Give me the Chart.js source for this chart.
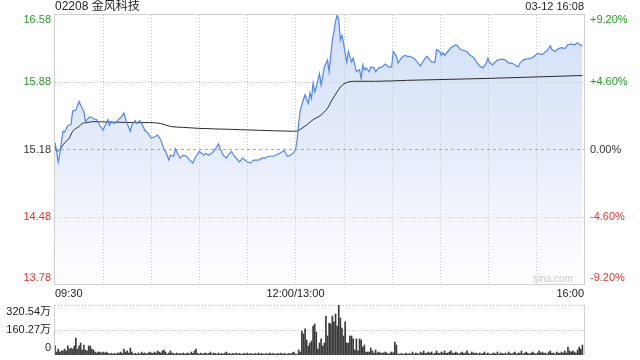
<!DOCTYPE html>
<html>
<head>
<meta charset="utf-8">
<script src="https://cdn.jsdelivr.net/npm/chart.js@4.4.1/dist/chart.umd.min.js"></script>
<style>
body{margin:0;background:#fff;}
#wrap{position:relative;width:640px;height:360px;}
canvas{position:absolute;left:0;top:0;}
</style>
</head>
<body>
<div id="wrap">
<canvas id="priceChart" width="640" height="360"></canvas>
<canvas id="volChart" width="640" height="360"></canvas>
</div>
<script>
// minute index since 09:30 (lunch break removed), 330 minutes per day
const titleText = '02208 金风科技';
const stampText = '03-12 16:08';
const prevClose = 15.18;

const priceTicks = [16.58, 15.88, 15.18, 14.48, 13.78];
const pctLabels = ['+9.20%', '+4.60%', '0.00%', '-4.60%', '-9.20%'];
const timeTicks = [0, 150, 330];
const timeLabels = ['09:30', '12:00/13:00', '16:00'];
const gridMinutes = [30, 60, 90, 120, 150, 180, 210, 240, 270, 300];
const volTicks = [320.54, 160.27, 0];
const volLabels = ['320.54万', '160.27万', '0'];

const priceMinutes = [0,1,2,3,5,6,8,10,11,13,15,16,17,18,19,21,22,24,26,28,30,31,33,34,35,37,39,41,43,44,45,47,48,50,51,53,55,56,58,60,62,64,66,68,69,71,72,74,75,77,78,80,82,84,86,88,90,93,94,96,99,101,102,103,105,107,108,110,112,115,117,120,122,124,127,129,131,133,136,139,142,143,145,147,149,150,151,152,153,155,156,157,158,159,160,161,162,163,165,166,167,168,170,171,172,173,174,175,176,177,178,179,180,181,182,183,185,186,187,188,190,191,192,193,194,196,197,199,200,202,204,206,208,210,211,213,214,216,218,220,221,224,226,228,229,231,232,234,235,237,238,240,241,242,243,245,247,250,251,253,255,257,259,261,263,265,267,269,270,271,273,274,276,279,281,283,285,287,289,290,292,294,297,299,301,304,306,307,309,310,312,314,316,318,320,322,324,326,328,329];
const prices = [15.25,15.16,15.05,15.14,15.37,15.36,15.43,15.44,15.58,15.59,15.68,15.64,15.61,15.57,15.47,15.51,15.52,15.50,15.49,15.43,15.38,15.42,15.49,15.43,15.47,15.45,15.48,15.51,15.56,15.50,15.45,15.37,15.44,15.48,15.45,15.48,15.42,15.38,15.35,15.30,15.31,15.33,15.28,15.18,15.16,15.07,15.12,15.11,15.19,15.12,15.09,15.12,15.11,15.07,15.04,15.11,15.16,15.12,15.14,15.12,15.16,15.21,15.24,15.19,15.12,15.09,15.12,15.16,15.11,15.05,15.09,15.05,15.04,15.07,15.07,15.09,15.09,15.11,15.11,15.13,15.16,15.17,15.11,15.12,15.15,15.18,15.27,15.45,15.59,15.70,15.75,15.70,15.66,15.77,15.71,15.87,15.78,15.83,15.97,15.85,15.94,16.04,16.11,15.99,16.16,16.32,16.41,16.51,16.58,16.53,16.32,16.37,16.29,16.18,16.09,16.20,16.09,16.13,16.06,15.99,16.01,15.92,16.06,16.01,16.03,15.99,16.04,16.03,15.99,16.03,16.04,16.07,16.04,16.04,16.20,16.15,16.08,16.13,16.16,16.15,16.15,16.13,16.09,16.05,16.08,16.13,16.15,16.11,16.09,16.09,16.22,16.20,16.16,16.19,16.16,16.20,16.24,16.27,16.26,16.22,16.21,16.20,16.16,16.14,16.09,16.05,16.03,16.08,16.13,16.09,16.06,16.08,16.11,16.12,16.11,16.08,16.08,16.06,16.04,16.08,16.11,16.12,16.13,16.15,16.18,16.17,16.20,16.21,16.26,16.22,16.20,16.23,16.24,16.23,16.27,16.28,16.27,16.29,16.26,16.27];

const avgMinutes = [0,1,3,6,9,11,15,17,20,24,49,59,66,72,80,90,109,127,150,154,158,161,166,170,173,176,178,181,187,200,220,270,329];
const avgPrices = [15.25,15.16,15.18,15.25,15.30,15.37,15.42,15.45,15.46,15.47,15.46,15.46,15.45,15.42,15.41,15.40,15.39,15.38,15.37,15.40,15.45,15.49,15.54,15.61,15.70,15.78,15.83,15.87,15.89,15.89,15.90,15.92,15.95];

// volume per minute, in 万 shares
const volumes = [
  58, 19, 38, 19, 26, 26, 38, 26, 58, 38,
  45, 38, 58, 109, 38, 58, 77, 32, 64, 32,
  26, 58, 58, 38, 32, 19, 13, 19, 19, 13,
  19, 13, 19, 13, 6, 10, 6, 10, 6, 13,
  13, 19, 10, 38, 19, 26, 13, 45, 19, 6,
  10, 6, 13, 6, 19, 10, 13, 6, 13, 19,
  13, 10, 19, 13, 26, 19, 13, 26, 32, 19,
  6, 13, 26, 13, 10, 6, 13, 6, 10, 6,
  13, 6, 10, 13, 6, 19, 10, 26, 38, 10,
  6, 13, 6, 10, 13, 6, 10, 19, 6, 13,
  10, 6, 13, 6, 10, 6, 13, 19, 6, 10,
  6, 10, 6, 13, 6, 10, 6, 6, 10, 6,
  13, 6, 10, 6, 6, 10, 6, 13, 6, 10,
  6, 6, 10, 6, 13, 6, 10, 6, 6, 10,
  6, 13, 6, 10, 6, 6, 10, 6, 13, 19,
  6, 6, 32, 19, 154, 135, 167, 96, 58, 77,
  90, 186, 199, 147, 38, 77, 103, 58, 77, 250,
  122, 205, 199, 250, 212, 263, 186, 320, 237, 173,
  122, 212, 77, 77, 122, 122, 103, 32, 103, 26,
  103, 96, 51, 64, 19, 19, 19, 45, 26, 13,
  32, 13, 19, 13, 13, 13, 19, 13, 6, 13,
  19, 13, 83, 64, 6, 6, 10, 6, 6, 13,
  6, 10, 6, 19, 6, 13, 10, 6, 19, 13,
  26, 10, 13, 19, 13, 19, 6, 13, 26, 13,
  10, 19, 13, 26, 10, 13, 19, 26, 13, 10,
  19, 13, 6, 13, 19, 10, 13, 26, 10, 6,
  19, 13, 10, 13, 6, 13, 6, 10, 19, 6,
  13, 6, 6, 10, 13, 6, 19, 6, 13, 10,
  6, 13, 6, 19, 10, 6, 13, 19, 6, 13,
  10, 26, 6, 13, 19, 10, 6, 13, 19, 10,
  6, 13, 26, 13, 19, 10, 13, 6, 19, 26,
  10, 13, 6, 19, 13, 10, 19, 13, 26, 13,
  51, 26, 19, 26, 19, 13, 32, 51, 38, 64
];

const FONT = '"Liberation Sans", Arial, "Noto Sans CJK SC", sans-serif';
const GREEN = '#1f9f1f';
const RED = '#f2302c';
const labelColors = [GREEN, GREEN, '#333', RED, RED];

function dotted(ctx, x1, y1, x2, y2, color, dash) {
    ctx.strokeStyle = color;
    ctx.setLineDash(dash);
    ctx.beginPath();
    ctx.moveTo(x1, y1);
    ctx.lineTo(x2, y2);
    ctx.stroke();
}

const priceFrame = {
    id: 'priceFrame',
    beforeDatasetsDraw(chart) {
        const { ctx, chartArea: a, scales: { x, y } } = chart;
        ctx.save();
        ctx.lineWidth = 1;
        priceTicks.forEach((v, i) => {
            if (i === 0 || i === priceTicks.length - 1) return;
            const py = Math.round(y.getPixelForValue(v)) + 0.5;
            if (v === prevClose) dotted(ctx, a.left, py, a.right, py, '#a9a9a9', [3, 3]);
            else dotted(ctx, a.left, py, a.right, py, '#c9c9c9', [1, 2]);
        });
        gridMinutes.forEach(m => {
            const px = Math.round(x.getPixelForValue(m)) + 0.5;
            dotted(ctx, px, a.top, px, a.bottom, '#c9c9c9', [1, 2]);
        });
        ctx.restore();
    },
    afterDatasetsDraw(chart) {
        const { ctx, chartArea: a } = chart;
        ctx.save();
        ctx.strokeStyle = '#cfcfcf';
        ctx.lineWidth = 1;
        ctx.strokeRect(Math.round(a.left) - 0.5, Math.round(a.top) - 0.5,
            Math.round(a.width) + 1, Math.round(a.height) + 1);
        ctx.restore();
    },
    afterDraw(chart) {
        const { ctx, chartArea: a, scales: { x, y } } = chart;
        ctx.save();
        ctx.textBaseline = 'middle';
        ctx.font = '12px ' + FONT;
        ctx.fillStyle = '#222';
        ctx.textAlign = 'left';
        ctx.fillText(titleText, a.left, 7);
        ctx.font = '11px ' + FONT;
        ctx.textAlign = 'right';
        ctx.fillText(stampText, a.right, 7);

        priceTicks.forEach((v, i) => {
            let py = y.getPixelForValue(v);
            if (i === 0) py += 5;
            if (i === priceTicks.length - 1) py -= 6;
            ctx.fillStyle = labelColors[i];
            ctx.textAlign = 'right';
            ctx.fillText(v.toFixed(2), a.left - 4, py);
            ctx.textAlign = 'left';
            ctx.fillText(pctLabels[i], a.right + 6, py);
        });

        ctx.fillStyle = '#222';
        timeTicks.forEach((m, i) => {
            ctx.textAlign = i === 0 ? 'left' : (i === timeTicks.length - 1 ? 'right' : 'center');
            ctx.fillText(timeLabels[i], x.getPixelForValue(m), a.bottom + 10);
        });

        ctx.font = '10px ' + FONT;
        ctx.fillStyle = '#c8c8c8';
        ctx.textAlign = 'right';
        ctx.fillText('sina.com', a.right - 11, a.bottom - 5);
        ctx.restore();
    }
};

const volFrame = {
    id: 'volFrame',
    beforeDatasetsDraw(chart) {
        const { ctx, chartArea: a, scales: { y } } = chart;
        ctx.save();
        ctx.lineWidth = 1;
        volTicks.forEach(v => {
            if (v === 0) return;
            const py = Math.round(y.getPixelForValue(v)) + 0.5;
            dotted(ctx, a.left, py, a.right, py, '#c9c9c9', [1, 2]);
        });
        ctx.setLineDash([]);
        ctx.strokeStyle = '#cfcfcf';
        ctx.beginPath();
        ctx.moveTo(Math.round(a.left) - 0.5, a.top);
        ctx.lineTo(Math.round(a.left) - 0.5, a.bottom);
        ctx.moveTo(Math.round(a.right) + 0.5, a.top);
        ctx.lineTo(Math.round(a.right) + 0.5, a.bottom);
        ctx.stroke();
        ctx.restore();
    },
    afterDraw(chart) {
        const { ctx, chartArea: a, scales: { y } } = chart;
        ctx.save();
        ctx.font = '11px ' + FONT;
        ctx.fillStyle = '#222';
        ctx.textAlign = 'right';
        ctx.textBaseline = 'middle';
        volTicks.forEach((v, i) => {
            let py = y.getPixelForValue(v);
            if (i === 0) py += 7;
            if (i === volTicks.length - 1) py -= 7;
            ctx.fillText(volLabels[i], a.left - 4, py);
        });
        ctx.restore();
    }
};

function fillGradient(context) {
    const chart = context.chart;
    const a = chart.chartArea;
    if (!a) return 'rgba(0,0,0,0)';
    const g = chart.ctx.createLinearGradient(0, a.top, 0, a.bottom);
    g.addColorStop(0, '#d2e0f8');
    g.addColorStop(0.5, '#e5ecfa');
    g.addColorStop(1, '#ffffff');
    return g;
}

new Chart(document.getElementById('priceChart'), {
    type: 'line',
    data: {
        datasets: [{
            data: priceMinutes.map((m, i) => ({ x: m, y: prices[i] })),
            borderColor: '#4f88ee',
            borderWidth: 1.2,
            pointRadius: 0,
            fill: 'start',
            backgroundColor: fillGradient
        }, {
            data: avgMinutes.map((m, i) => ({ x: m, y: avgPrices[i] })),
            borderColor: '#2b2b2b',
            borderWidth: 1,
            pointRadius: 0,
            fill: false,
            cubicInterpolationMode: 'monotone'
        }]
    },
    options: {
        responsive: false,
        animation: false,
        devicePixelRatio: 1,
        events: [],
        layout: { padding: { left: 55, right: 56, top: 15, bottom: 76 } },
        scales: {
            x: { type: 'linear', min: 0, max: 330, display: false },
            y: { min: 13.78, max: 16.58, display: false }
        },
        plugins: {
            legend: { display: false },
            tooltip: { enabled: false },
            filler: { drawTime: 'beforeDatasetsDraw' }
        }
    },
    plugins: [priceFrame]
});

new Chart(document.getElementById('volChart'), {
    type: 'bar',
    data: {
        datasets: [{
            data: volumes.map((v, i) => ({ x: i, y: v })),
            backgroundColor: '#3a3a3a',
            barThickness: 1
        }]
    },
    options: {
        responsive: false,
        animation: false,
        devicePixelRatio: 1,
        events: [],
        layout: { padding: { left: 55, right: 56, top: 305, bottom: 5 } },
        scales: {
            x: { type: 'linear', min: 0, max: 330, offset: false, display: false },
            y: { min: 0, max: 320.54, display: false }
        },
        plugins: { legend: { display: false }, tooltip: { enabled: false } }
    },
    plugins: [volFrame]
});
</script>
</body>
</html>
